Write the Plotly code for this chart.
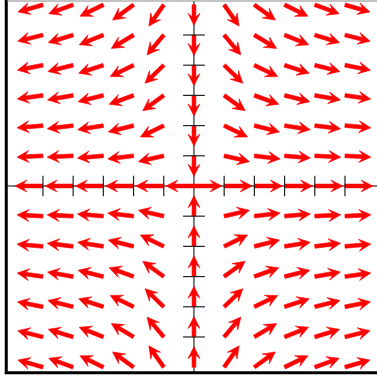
import math
import plotly.graph_objects as go

# grid of arrow tails
x_cols = [-5, -4, -3, -2, -1, 0, 1, 2, 3, 4, 5]
y_rows = [6, 5, 4, 3, 2, 1, 0, -1, -2, -3, -4, -5, -6]

# arrow direction in degrees (counter-clockwise from +x), one row per y_rows entry
angles = [
    [-164, -160, -154, -144, -125, -90, -55, -36, -26, -20, -16],
    [-166, -163, -158, -149, -130, -90, -50, -31, -22, -17, -14],
    [-169, -166, -162, -154, -136, -90, -44, -26, -18, -14, -11],
    [-172, -170, -166, -160, -144, -90, -36, -20, -14, -10, -8],
    [-175, -173, -171, -166, -154, -90, -26, -14, -9, -7, -5],
    [-177, -177, -175, -173, -167, -90, -13, -7, -5, -3, -3],
    [180, 180, 180, 180, 180, 180, 0, 0, 0, 0, 0],
    [177, 177, 175, 173, 167, 90, 13, 7, 5, 3, 3],
    [175, 173, 171, 166, 154, 90, 26, 14, 9, 7, 5],
    [172, 170, 166, 160, 144, 90, 36, 20, 14, 10, 8],
    [169, 166, 162, 154, 136, 90, 44, 26, 18, 14, 11],
    [166, 163, 158, 149, 130, 90, 50, 31, 22, 17, 14],
    [164, 160, 154, 144, 125, 90, 55, 36, 26, 20, 16],
]

# the origin also carries a second arrow pointing right
extra_x = [0]
extra_y = [0]
extra_angle = [0]

x_ticks = [-5, -4, -3, -2, -1, 1, 2, 3, 4, 5]
y_ticks = [-5, -4, -3, -2, -1, 1, 2, 3, 4, 5]

PX = 30.2  # pixels per unit
X_RANGE = [-6.19, 6.06]
Y_RANGE = [-6.16, 6.126]


def arrow_poly(x0, y0, ang, length_px):
    L = length_px / PX
    w = 3.8 / PX / 2
    hl = 12 / PX
    hw = 12 / PX / 2
    b = 3.5 / PX
    pts = [(0, -w), (L - hl + b, -w), (L - hl, -hw), (L, 0),
           (L - hl, hw), (L - hl + b, w), (0, w)]
    c, s = math.cos(math.radians(ang)), math.sin(math.radians(ang))
    xs = [x0 + t * c - n * s for t, n in pts] + [x0 + pts[0][0] * c - pts[0][1] * s]
    ys = [y0 + t * s + n * c for t, n in pts] + [y0 + pts[0][0] * s + pts[0][1] * c]
    return xs, ys


ax_x, ax_y = [], []
for yv, row in zip(y_rows, angles):
    for xv, a in zip(x_cols, row):
        if yv == 0:
            ln = 28
        elif xv == 0:
            ln = 20.5
        else:
            ln = 26
        px, py = arrow_poly(xv, yv, a, ln)
        ax_x += px + [None]
        ax_y += py + [None]
for xv, yv, a in zip(extra_x, extra_y, extra_angle):
    px, py = arrow_poly(xv, yv, a, 28)
    ax_x += px + [None]
    ax_y += py + [None]

fig = go.Figure()
fig.add_trace(go.Scatter(
    x=ax_x, y=ax_y, mode="lines", fill="toself",
    fillcolor="#ff0000", line=dict(color="#ff0000", width=0.6),
    hoverinfo="skip", showlegend=False,
))

shapes = []
# axes through the origin
shapes.append(dict(type="line", xref="x", yref="y", x0=X_RANGE[0], x1=X_RANGE[1], y0=0, y1=0,
                   line=dict(color="black", width=1), layer="below"))
shapes.append(dict(type="line", xref="x", yref="y", x0=0, x1=0, y0=Y_RANGE[0], y1=Y_RANGE[1],
                   line=dict(color="black", width=1), layer="below"))
for t in x_ticks:
    shapes.append(dict(type="line", xref="x", yref="y", x0=t, x1=t, y0=-0.34, y1=0.34,
                       line=dict(color="#222", width=1.2), layer="above"))
for t in y_ticks:
    shapes.append(dict(type="line", xref="x", yref="y", x0=-0.36, x1=0.36, y0=t, y1=t,
                       line=dict(color="#222", width=1.2), layer="above"))
# frame
shapes.append(dict(type="line", xref="paper", yref="paper", x0=-0.002, x1=-0.002, y0=-0.004, y1=1.003,
                   line=dict(color="black", width=3)))
shapes.append(dict(type="line", xref="paper", yref="paper", x0=-0.006, x1=1.0, y0=-0.002, y1=-0.002,
                   line=dict(color="black", width=3)))
shapes.append(dict(type="line", xref="paper", yref="paper", x0=0, x1=1.0, y0=1.0, y1=1.0,
                   line=dict(color="#888", width=1)))

fig.update_layout(
    width=377, height=382,
    margin=dict(l=7, r=0, t=1, b=10),
    plot_bgcolor="white", paper_bgcolor="white",
    xaxis=dict(range=X_RANGE, visible=False, fixedrange=True),
    yaxis=dict(range=Y_RANGE, visible=False, fixedrange=True),
    shapes=shapes,
    showlegend=False,
)

fig.write_html("out.html", config={"displayModeBar": False},
               post_script="document.body.style.margin='0';")
